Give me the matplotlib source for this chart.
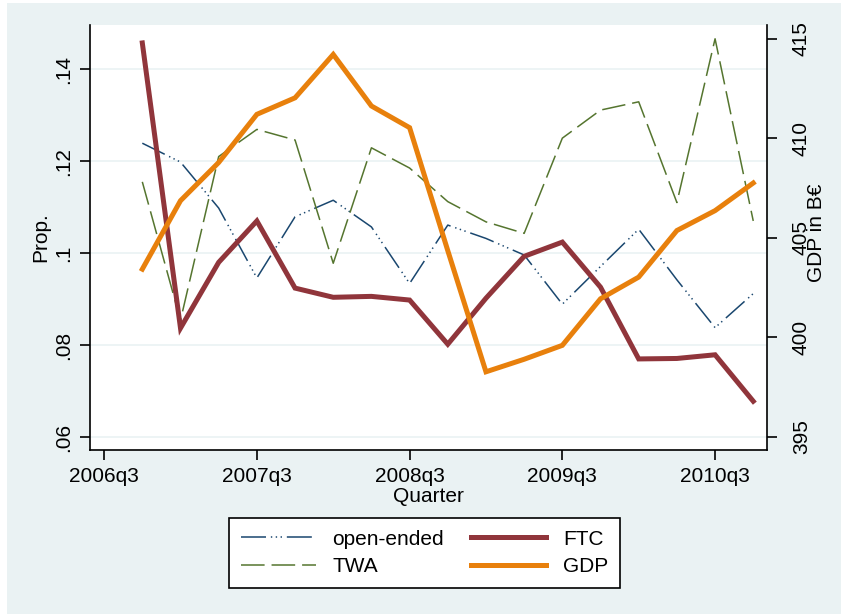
import matplotlib
matplotlib.use("Agg")
import matplotlib.pyplot as plt
from matplotlib.patches import Rectangle

plt.rcParams['font.family'] = ['Liberation Sans', 'DejaVu Sans']
plt.rcParams['lines.scale_dashes'] = False

# quarterly series, 2006q4 .. 2010q4
quarters = ["2006q4", "2007q1", "2007q2", "2007q3", "2007q4", "2008q1", "2008q2",
            "2008q3", "2008q4", "2009q1", "2009q2", "2009q3", "2009q4", "2010q1",
            "2010q2", "2010q3", "2010q4"]
open_ended = [0.1239, 0.1198, 0.1098, 0.0946, 0.1079, 0.1115, 0.1057, 0.0934, 0.1061,
              0.1032, 0.0996, 0.0889, 0.0971, 0.1052, 0.0942, 0.0838, 0.0912]
twa = [0.1155, 0.0854, 0.1210, 0.1269, 0.1246, 0.0978, 0.1229, 0.1185, 0.1112,
       0.1068, 0.1043, 0.1250, 0.1311, 0.1329, 0.1110, 0.1466, 0.1070]
ftc = [0.1457, 0.0837, 0.0980, 0.1070, 0.0924, 0.0904, 0.0906, 0.0898, 0.0802,
       0.0902, 0.0993, 0.1024, 0.0926, 0.0770, 0.0771, 0.0779, 0.0678]
gdp = [403.42, 406.86, 408.78, 411.20, 412.03, 414.21, 411.62, 410.53, 404.35,
       398.26, 398.89, 399.59, 401.93, 403.02, 405.36, 406.36, 407.75]

xtick_labels = ["2006q3", "2007q3", "2008q3", "2009q3", "2010q3"]
left_ticks = [0.06, 0.08, 0.10, 0.12, 0.14]
left_tick_labels = [".06", ".08", ".1", ".12", ".14"]
right_ticks = [395, 400, 405, 410, 415]


def qindex(label):
    # quarters counted from 2006q3
    year, q = label.split("q")
    return (int(year) - 2006) * 4 + int(q) - 3


BG = "#EAF2F3"
NAVY = "#1A476F"
MAROON = "#90353B"
GREEN = "#55752F"
ORANGE = "#E8800C"

x = [qindex(q) for q in quarters]

fig = plt.figure(figsize=(8.41, 6.14), dpi=100, facecolor="white")
fig.patches.append(Rectangle((7 / 841, 0.0), 1.0, 1 - 3 / 614, transform=fig.transFigure,
                             facecolor=BG, edgecolor="none", zorder=-10))

ax = fig.add_axes([90 / 841, 1 - 450 / 614, 677 / 841, 425 / 614])
ax.set_facecolor("white")

ax.plot(x, open_ended, color=NAVY, lw=1.1, dashes=(18, 3.5, 1, 2.5, 1, 2.5, 1, 3.5),
        label="open-ended")
ax.plot(x, twa, color=GREEN, lw=1.1, dashes=(17, 5), label="TWA")
ax.plot(x, ftc, color=MAROON, lw=3.6, solid_joinstyle="miter", label="FTC")

ax.set_xlim(-0.37, 17.36)
ax.set_ylim(0.0572, 0.1496)
ax.set_yticks(left_ticks)
ax.set_yticklabels(left_tick_labels)
ax.set_xticks([qindex(t) for t in xtick_labels])
ax.set_xticklabels(xtick_labels)
ax.grid(axis="y", color=BG, lw=1.2)
ax.set_axisbelow(True)

for s in ["top", "right"]:
    ax.spines[s].set_visible(False)
ax.spines["left"].set_linewidth(1.2)
ax.spines["bottom"].set_linewidth(1.2)
ax.tick_params(axis="both", length=7, width=1.2, labelsize=15, colors="black")
ax.tick_params(axis="y", pad=5)
ax.tick_params(axis="x", pad=5)
plt.setp(ax.get_yticklabels(), rotation=90, va="center")

ax.set_xlabel("Quarter", fontsize=15, labelpad=1)
ax.set_ylabel("Prop.", fontsize=15)
ax.yaxis.set_label_coords(-0.059, 0.5)

ax2 = ax.twinx()
ax2.plot(x, gdp, color=ORANGE, lw=3.6, solid_joinstyle="miter", label="GDP")
ax2.set_ylim(394.33, 415.69)
ax2.set_yticks(right_ticks)
ax2.set_yticklabels([str(t) for t in right_ticks])
for s in ["top", "left", "bottom"]:
    ax2.spines[s].set_visible(False)
ax2.spines["right"].set_linewidth(1.2)
ax2.tick_params(axis="y", length=7, width=1.2, labelsize=15, pad=11)
plt.setp(ax2.get_yticklabels(), rotation=90, va="center")
fig.text(817 / 841, 1 - 233 / 614, "GDP in B€", rotation=90, ha="center", va="center",
         fontsize=15)

handles = ax.get_lines() + ax2.get_lines()
leg = fig.legend(handles, [h.get_label() for h in handles], ncol=2, loc="center",
                 bbox_to_anchor=(424.5 / 841, 1 - 553 / 614), fontsize=15,
                 frameon=True, fancybox=False, edgecolor="black", facecolor="white",
                 framealpha=1, handlelength=3.6, handletextpad=0.8, columnspacing=1.3,
                 borderpad=0.55, labelspacing=0.42, borderaxespad=0)
leg.get_frame().set_linewidth(1.2)

fig.savefig("out.png", dpi=100, facecolor=fig.get_facecolor())
